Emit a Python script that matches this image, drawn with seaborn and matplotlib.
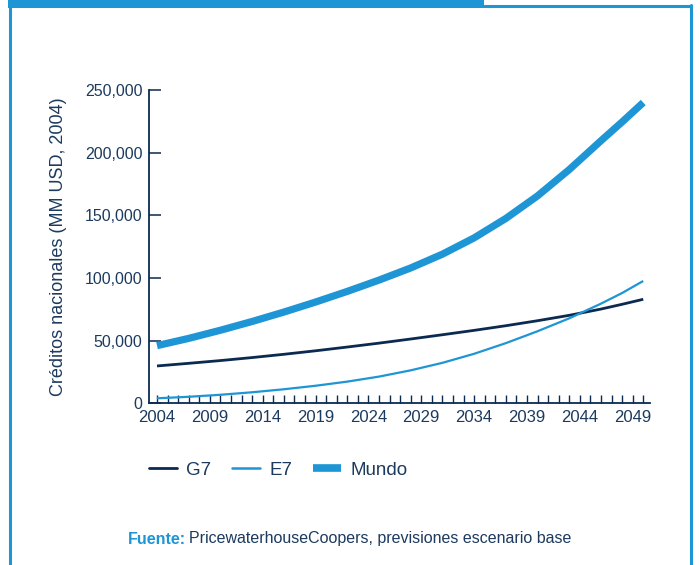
import matplotlib
matplotlib.use("Agg")
import matplotlib.pyplot as plt
from matplotlib.lines import Line2D
from matplotlib.patches import Rectangle
import seaborn as sns
import pandas as pd

years = [2004, 2007, 2010, 2013, 2016, 2019, 2022, 2025, 2028, 2031, 2034, 2037, 2040, 2043, 2046, 2048, 2050]
g7 = [29800, 31900, 34100, 36500, 39100, 41900, 44900, 48000, 51300, 54700, 58200, 61900, 65900, 70200, 75200, 79000, 83000]
e7 = [4000, 5200, 6800, 8800, 11200, 14000, 17300, 21300, 26300, 32300, 39500, 48000, 57500, 67800, 79500, 88000, 97600]
mundo = [46000, 51800, 58300, 65300, 72800, 80800, 89300, 98300, 108000, 119000, 132000, 147500, 165500, 186500, 209500, 224500, 240000]
series_names = ["G7", "E7", "Mundo"]
yticks = [0, 50000, 100000, 150000, 200000, 250000]
ytick_labels = ["0", "50,000", "100,000", "150,000", "200,000", "250,000"]
xtick_years = [2004, 2009, 2014, 2019, 2024, 2029, 2034, 2039, 2044, 2049]

NAVY = "#0b2a4f"
BLUE = "#1e95d4"
TEXT = "#1c3a5e"

sns.set_style("white")
plt.rcParams["font.family"] = ["Liberation Sans", "DejaVu Sans"]

df = pd.DataFrame({"year": years * 3,
                   "value": g7 + e7 + mundo,
                   "serie": [series_names[0]] * len(years) + [series_names[1]] * len(years) + [series_names[2]] * len(years)})

W, H = 700, 565
fig = plt.figure(figsize=(W / 100, H / 100), dpi=100)
ax = fig.add_axes([149.3 / W, 1 - 403.3 / H, (650 - 149.3) / W, (403.3 - 90) / H])

styles = {"G7": (NAVY, 2.0), "E7": (BLUE, 1.6), "Mundo": (BLUE, 5.2)}
for name in series_names:
    c, lw = styles[name]
    sns.lineplot(data=df[df["serie"] == name], x="year", y="value", color=c,
                 linewidth=lw, ax=ax, legend=False, solid_capstyle="butt",
                 solid_joinstyle="round")

ax.set_xlim(2003.27, 2050.64)
ax.set_ylim(0, 250000)
ax.set_yticks(yticks)
ax.set_yticklabels(ytick_labels)
ax.set_xticks(xtick_years)
ax.set_xticklabels([str(y) for y in xtick_years])
ax.set_xticks(list(range(2004, 2051)), minor=True)
ax.tick_params(axis="y", left=True, direction="in", length=8.6, width=1.1, color=NAVY,
               labelsize=11.5, labelcolor=TEXT, pad=5)
ax.tick_params(axis="x", which="both", bottom=True, direction="in", length=5.8, width=1.0,
               color=NAVY, labelsize=12, labelcolor=TEXT, pad=5)
ax.set_xlabel("")
ax.set_ylabel("Créditos nacionales (MM USD, 2004)", fontsize=13, color=TEXT, labelpad=13)
for s in ["top", "right"]:
    ax.spines[s].set_visible(False)
for s in ["left", "bottom"]:
    ax.spines[s].set_color(NAVY)
    ax.spines[s].set_linewidth(1.3)

handles = [Line2D([0], [0], color=NAVY, lw=2.0),
           Line2D([0], [0], color=BLUE, lw=1.8),
           Line2D([0], [0], color=BLUE, lw=5.5, solid_capstyle="butt")]
leg = fig.legend(handles, series_names, loc="center left",
                 bbox_to_anchor=(132 / W, 1 - 470 / H), ncol=3, frameon=False,
                 fontsize=13.5, handlelength=1.5, columnspacing=1.1, handletextpad=0.5)
for t in leg.get_texts():
    t.set_color(TEXT)

# Source line
fig.text(128 / W, 1 - 539 / H, "Fuente:", color=BLUE, fontsize=11.5, fontweight="bold",
         va="center", ha="left")
fig.text(189 / W, 1 - 539 / H, "PricewaterhouseCoopers, previsiones escenario base",
         color=TEXT, fontsize=11.5, va="center", ha="left")

# Frame
fig.patches.append(Rectangle((8 / W, 1 - 8 / H), (484 - 8) / W, 8 / H,
                             transform=fig.transFigure, color=BLUE, lw=0))
fig.add_artist(Line2D([484 / W, 691 / W], [1 - 6 / H, 1 - 6 / H],
                      transform=fig.transFigure, color=BLUE, lw=2.2))
fig.add_artist(Line2D([9.5 / W, 9.5 / W], [0, 1 - 5 / H],
                      transform=fig.transFigure, color=BLUE, lw=2.2))
fig.add_artist(Line2D([690.5 / W, 690.5 / W], [0, 1 - 5 / H],
                      transform=fig.transFigure, color=BLUE, lw=2.2))

fig.savefig("out.png", dpi=100, facecolor="white")
